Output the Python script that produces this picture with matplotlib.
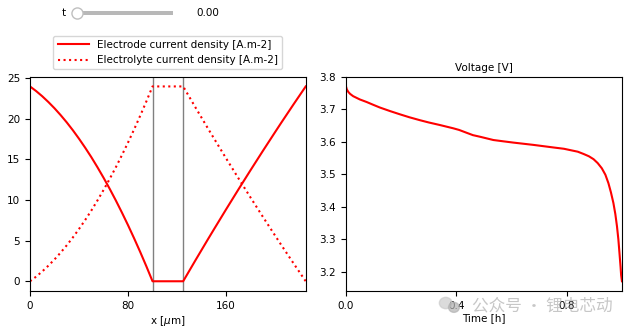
import matplotlib
matplotlib.use("Agg")
import matplotlib.pyplot as plt
from matplotlib.patches import Ellipse
from matplotlib.widgets import Slider

# through-cell position [um]: negative electrode 0-100, separator 100-125, positive 125-225
x_um = [0, 5, 10, 15, 20, 25, 30, 35, 40, 45, 50, 55, 60, 65, 70, 75, 80, 85, 90, 95, 100,
        112.5,
        125, 130, 135, 140, 145, 150, 155, 160, 165, 170, 175, 180, 185, 190, 195, 200,
        205, 210, 215, 220, 225]
electrode_current = [24.00, 23.43, 22.79, 22.08, 21.31, 20.47, 19.57, 18.60, 17.56, 16.46,
                     15.30, 14.06, 12.76, 11.40, 9.97, 8.47, 6.91, 5.28, 3.59, 1.83, 0.00,
                     0.00,
                     0.00, 1.29, 2.58, 3.85, 5.12, 6.37, 7.61, 8.85, 10.07, 11.29, 12.49,
                     13.69, 14.87, 16.05, 17.21, 18.37, 19.52, 20.65, 21.78, 22.89, 24.00]
electrolyte_current = [0.00, 0.57, 1.21, 1.92, 2.69, 3.53, 4.43, 5.40, 6.44, 7.54, 8.70,
                       9.94, 11.24, 12.60, 14.03, 15.53, 17.09, 18.72, 20.41, 22.17, 24.00,
                       24.00,
                       24.00, 22.71, 21.42, 20.15, 18.88, 17.63, 16.39, 15.15, 13.93, 12.71,
                       11.51, 10.31, 9.13, 7.95, 6.79, 5.63, 4.48, 3.35, 2.22, 1.11, 0.00]
boundaries = [100, 125]

# terminal voltage over the discharge
time_h = [0.0, 0.003, 0.0085, 0.015, 0.026, 0.05, 0.075, 0.1, 0.123, 0.16, 0.196, 0.23,
          0.268, 0.3, 0.341, 0.389, 0.41, 0.438, 0.46, 0.486, 0.51, 0.534, 0.57, 0.607,
          0.679, 0.752, 0.79, 0.812, 0.84, 0.861, 0.88, 0.897, 0.912, 0.927, 0.94, 0.951,
          0.96, 0.969, 0.976, 0.982, 0.987, 0.991, 0.995, 0.997, 1.0]
voltage = [3.771, 3.762, 3.754, 3.748, 3.741, 3.731, 3.723, 3.714, 3.706, 3.695, 3.685,
           3.676, 3.667, 3.660, 3.652, 3.642, 3.637, 3.628, 3.621, 3.616, 3.611, 3.606,
           3.602, 3.598, 3.591, 3.583, 3.579, 3.575, 3.570, 3.563, 3.556, 3.547, 3.535,
           3.519, 3.499, 3.473, 3.445, 3.412, 3.378, 3.340, 3.300, 3.258, 3.215, 3.190,
           3.171]

plt.rcParams['font.family'] = ['DejaVu Sans', 'Noto Sans CJK SC']
plt.rcParams['font.size'] = 7.5

fig = plt.figure(figsize=(6.34, 3.33), dpi=100)

# left: current densities through the cell
ax1 = fig.add_axes([0.0473, 0.1261, 0.4349, 0.6436])
ax1.plot(x_um, electrode_current, color='red', lw=1.5, ls='-',
         label='Electrode current density [A.m-2]')
ax1.plot(x_um, electrolyte_current, color='red', lw=1.5, ls=':',
         label='Electrolyte current density [A.m-2]')
for b in boundaries:
    ax1.axvline(b, color='0.5', lw=1, zorder=0)
ax1.set_xlim(0, 225)
ax1.set_xticks([0, 80, 160])
ax1.set_yticks([0, 5, 10, 15, 20, 25])
ax1.set_xlabel(r'x [$\mu$m]', labelpad=2)
ax1.legend(loc='lower center', bbox_to_anchor=(0.5, 1.01), fontsize=7.5,
           handlelength=3)

# right: voltage
ax2 = fig.add_axes([0.5457, 0.1261, 0.4353, 0.6436])
ax2.plot(time_h, voltage, color='red', lw=1.5)
ax2.set_xlim(0, 1.0)
ax2.set_xticks([0.0, 0.4, 0.8])
ax2.set_title('Voltage [V]', fontsize=7.5, pad=4)
ax2.set_xlabel('Time [h]', labelpad=2)

# time slider
ax_slider = fig.add_axes([0.1215, 0.950, 0.151, 0.022])
slider = Slider(ax_slider, 't', 0, 1.0, valinit=0, color='0.7', track_color='0.72',
                handle_style={'size': 8})
slider.label.set_position((-0.12, 0.5))
slider.valtext.set_position((1.25, 0.5))
slider.valtext.set_text('0.00')

# watermark, drawn faintly behind the axes text
fig.patches.append(Ellipse((0.703, 0.090), 0.020, 0.034, transform=fig.transFigure,
                           color='0.8', alpha=0.7, zorder=0))
fig.patches.append(Ellipse((0.716, 0.077), 0.017, 0.030, transform=fig.transFigure,
                           color='0.7', alpha=0.7, zorder=0))
fig.text(0.745, 0.082, '公众号 · 锂电芯动', fontsize=12, color='0.6', alpha=0.55,
         family=['Noto Sans CJK SC', 'DejaVu Sans'], ha='left', va='center', zorder=0)

fig.savefig('out.png', dpi=100)
